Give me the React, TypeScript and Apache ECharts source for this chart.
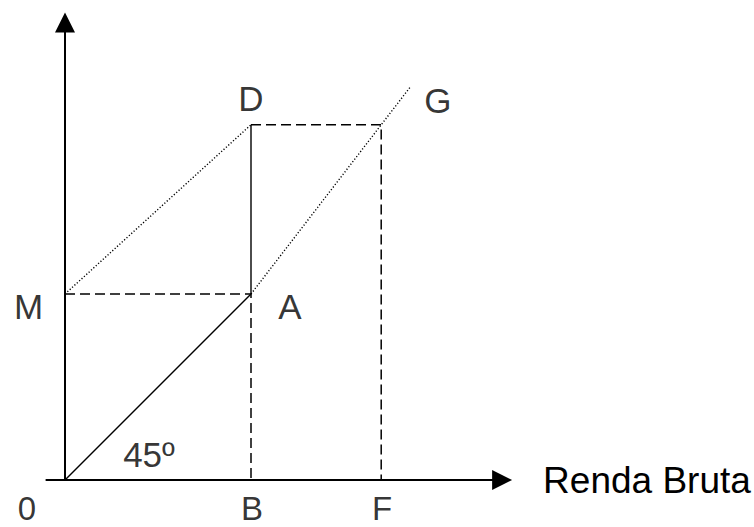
import React, { useEffect, useRef } from "react";
import * as echarts from "echarts";

// Key points of the diagram (data units; origin 0 at the axes' crossing)
const O = [0, 0];
const A = [10, 10];
const B = [10, 0];
const M = [0, 10];
const D = [10, 19.1];
const F = [17, 0];
const FD = [17, 19.1];
const G = [18.54, 21.1];

// Axis extents
const X_RANGE = [-1, 23.5];
const Y_RANGE = [0, 24.6];

// Labels
const POINT_LABELS = ["0", "B", "F", "M", "A", "D", "G", "45º"];
const X_AXIS_NAME = "Renda Bruta";

const UNIT = 18.6; // pixels per data unit
const ORIGIN_PX = [65, 480];

export default function App() {
  const ref = useRef<HTMLDivElement>(null);

  useEffect(() => {
    if (!ref.current) return;
    const chart = echarts.init(ref.current, null, { renderer: "svg" });
    const font = "'Liberation Sans', Arial, Helvetica, sans-serif";
    const fs = 35;
    const black = "#000";

    const gridLeft = ORIGIN_PX[0] + X_RANGE[0] * UNIT;
    const gridWidth = (X_RANGE[1] - X_RANGE[0]) * UNIT;
    const gridHeight = (Y_RANGE[1] - Y_RANGE[0]) * UNIT;
    const gridTop = ORIGIN_PX[1] - gridHeight;

    const solid = { color: black, width: 1.4, type: "solid" as const };
    const dashed = { color: black, width: 1.5, type: [10, 5] as any };
    const dotted = { color: black, width: 1.4, type: [1.2, 2] as any };

    const lineSeries = (name: string, data: number[][], style: any) => ({
      name,
      type: "line",
      data,
      symbol: "none",
      lineStyle: style,
      silent: true,
      z: 3,
    });

    const bottom = { fontSize: 33, lineHeight: 26 };
    const labelPoints = [
      { name: POINT_LABELS[0], value: O, offset: [-38, 28], extra: bottom },
      { name: POINT_LABELS[1], value: B, offset: [1, 28], extra: bottom },
      { name: POINT_LABELS[2], value: F, offset: [1, 28], extra: bottom },
      { name: POINT_LABELS[3], value: M, offset: [-36.5, 12] },
      { name: POINT_LABELS[4], value: A, offset: [39, 12] },
      { name: POINT_LABELS[5], value: D, offset: [0, -26] },
      { name: POINT_LABELS[6], value: G, offset: [28, 12.5] },
      { name: POINT_LABELS[7], value: O, offset: [84, -25.5] },
    ];

    chart.setOption({
      animation: false,
      backgroundColor: "#fff",
      grid: { left: gridLeft, top: gridTop, width: gridWidth, height: gridHeight },
      xAxis: {
        type: "value",
        min: X_RANGE[0],
        max: X_RANGE[1],
        name: X_AXIS_NAME,
        nameLocation: "end",
        nameGap: 41,
        nameTextStyle: {
          fontFamily: font,
          fontSize: 37,
          lineHeight: 30,
          color: black,
          verticalAlign: "middle",
          padding: [24, 0, 0, 0],
        },
        axisLine: {
          show: true,
          onZero: true,
          symbol: ["none", "triangle"],
          symbolSize: [20, 20],
          lineStyle: { color: black, width: 2 },
        },
        axisTick: { show: false },
        axisLabel: { show: false },
        splitLine: { show: false },
      },
      yAxis: {
        type: "value",
        min: Y_RANGE[0],
        max: Y_RANGE[1],
        axisLine: {
          show: true,
          onZero: true,
          symbol: ["none", "triangle"],
          symbolSize: [20, 20],
          lineStyle: { color: black, width: 2 },
        },
        axisTick: { show: false },
        axisLabel: { show: false },
        splitLine: { show: false },
      },
      series: [
        lineSeries("OA", [O, A], solid),
        lineSeries("AD", [A, D], solid),
        lineSeries("MAB", [M, A, B], dashed),
        lineSeries("DFF", [D, FD, F], dashed),
        lineSeries("MD", [M, D], dotted),
        lineSeries("AG", [A, G], dotted),
        {
          name: "labels",
          type: "scatter",
          symbolSize: 0,
          silent: true,
          data: labelPoints.map((p) => ({
            name: p.name,
            value: p.value,
            label: { offset: p.offset, ...(p.extra || {}) },
          })),
          label: {
            show: true,
            position: "inside",
            formatter: "{b}",
            fontFamily: font,
            fontSize: fs,
            lineHeight: 27,
            color: black,
          },
          z: 5,
        },
      ],
    });
    return () => chart.dispose();
  }, []);

  return (
    <div
      ref={ref}
      style={{ position: "fixed", left: 0, top: 0, width: 754, height: 527, background: "#fff" }}
    />
  );
}
